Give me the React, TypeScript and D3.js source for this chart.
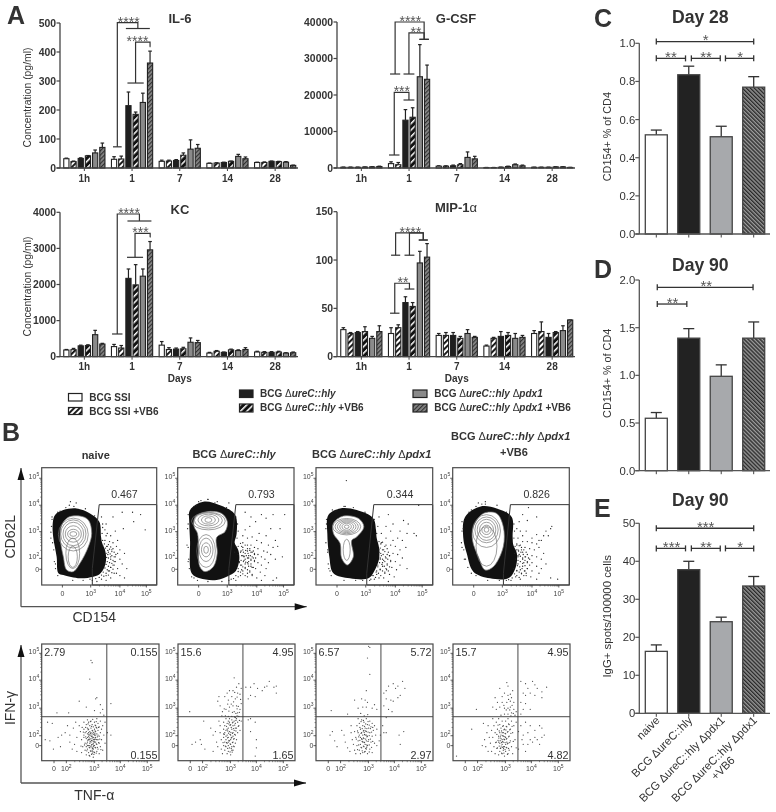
import React from 'react';
import * as d3 from 'd3';

const FONT = '"Liberation Sans", Arial, sans-serif';
const TXT = '#333';

// ---------- Panel A data ----------
const groups = ['1h', '1', '7', '14', '28'];
const il6Mean = [[32, 22, 33, 42, 52, 71], [30, 31, 215, 185, 226, 362], [23, 24, 26, 44, 65, 68], [16, 17, 19, 23, 40, 32], [19, 19, 23, 22, 20, 9]];
const il6Top = [[34, 24, 35, 43, 62, 86], [39, 41, 262, 193, 258, 403], [27, 27, 29, 52, 97, 81], [17, 18, 20, 24, 47, 38], [20, 21, 24, 23, 22, 10]];
const gcsfMean = [[200, 200, 200, 250, 300, 400], [1200, 900, 13100, 13900, 25000, 24300], [500, 500, 600, 900, 2900, 2500], [100, 100, 200, 400, 900, 600], [200, 200, 200, 300, 300, 150]];
const gcsfTop = [[250, 250, 250, 300, 350, 500], [1700, 1500, 16000, 16500, 33800, 28200], [600, 600, 800, 1200, 4400, 3200], [150, 150, 250, 500, 1100, 800], [230, 230, 230, 330, 350, 180]];
const kcMean = [[185, 195, 300, 310, 610, 350], [280, 240, 2170, 1990, 2230, 2960], [320, 200, 210, 220, 400, 390], [100, 150, 120, 190, 170, 200], [130, 120, 120, 130, 100, 110]];
const kcTop = [[200, 230, 320, 330, 730, 370], [340, 310, 2430, 2550, 2430, 3190], [420, 250, 240, 260, 520, 450], [120, 170, 130, 210, 190, 250], [150, 140, 140, 150, 110, 130]];
const mipMean = [[28, 24, 25, 26, 19, 26], [24, 30, 56, 52, 97, 103], [22, 22, 22, 19, 24, 20], [11, 19, 21, 22, 19, 20], [24, 26, 20, 25, 27, 38]];
const mipTop = [[30, 25, 26, 31, 21, 32], [30, 33, 62, 56, 109, 117], [24, 25, 25, 21, 28, 21], [12, 20, 26, 25, 24, 22], [27, 36, 24, 26, 32, 38]];
const il6Ticks = [0, 100, 200, 300, 400, 500];
const gcsfTicks = [0, 10000, 20000, 30000, 40000];
const kcTicks = [0, 1000, 2000, 3000, 4000];
const mipTicks = [0, 50, 100, 150];
const seriesFill = ['#fff', 'url(#hW)', '#1f1f1f', 'url(#hB)', '#8a8a8a', 'url(#hG)'];

// bracket: left tee bar range, left value, top value, right tee bar range, right value, stars, star bar position
type Br = [number, number, number, number, number, number, number, string, number];
const il6Br: Br[] = [[-0.15, 1.06, 73, 501, 1.64, 4.97, 481, '****', 2.04], [1.86, 4.12, 293, 434, 4.97, 5.03, 418, '****', 3.25]];
const gcsfBr: Br[] = [[-0.14, 1.27, 25750, 40000, 3.94, 5.25, 35250, '****', 2.68], [1.73, 3.24, 25750, 37000, 3.94, 5.25, 35250, '**', 3.47], [-0.28, 1.17, 3560, 20740, 1.73, 3.24, 18630, '***', 1.5]];
const kcBr: Br[] = [[-0.28, 1.17, 629, 3953, 1.86, 5.19, 3759, '****', 2.08], [1.8, 4.03, 2753, 3418, 5, 5.03, 3307, '***', 3.67]];
const mipBr: Br[] = [[0, 1.27, 105, 128, 3.85, 5.1, 120.7, '****', 2.68], [1.87, 3.24, 105, 128, 3.85, 5.1, 120.7, '', 0], [-0.14, 1.17, 45, 76, 1.87, 3.24, 70, '**', 1.65]];

// ---------- Panels C, D, E data ----------
const cMean = [0.52, 0.835, 0.51, 0.77];
const cTop = [0.545, 0.88, 0.565, 0.825];
const dMean = [0.55, 1.39, 0.99, 1.39];
const dTop = [0.61, 1.49, 1.11, 1.56];
const eMean = [16.3, 37.8, 24.1, 33.5];
const eTop = [18, 40, 25.3, 36];
const cTicks = [0, 0.2, 0.4, 0.6, 0.8, 1];
const dTicks = [0, 0.5, 1, 1.5, 2];
const eTicks = [0, 10, 20, 30, 40, 50];
const fourFill = ['#fff', '#222', '#a7a9ac', 'url(#hD)'];
type Sig = [number, number, number, string, number];
const cSig: Sig[] = [[0, 3, 1.009, '*', 1.52], [0, 0.9, 0.921, '**', 0.45], [1.08, 1.97, 0.921, '**', 1.53], [2.13, 3, 0.921, '*', 2.58]];
const dSig: Sig[] = [[0.03, 2.98, 1.923, '**', 1.54], [0.03, 0.94, 1.748, '**', 0.5]];
const eSig: Sig[] = [[0, 3, 48.7, '***', 1.52], [0, 0.9, 43.4, '***', 0.47], [1.08, 1.97, 43.4, '**', 1.53], [2.13, 3, 43.4, '*', 2.58]];

// ---------- Panel B data (channel units 0-100 of each plot) ----------
const topX = [['0', 18], ['3', 42.6], ['4', 68], ['5', 91]] as [string, number][];
const topY = [['5', 91], ['4', 68], ['3', 45.5], ['2', 22.7], ['0', 13.4]] as [string, number][];
const botX = [['0', 10.5], ['2', 21], ['3', 44.8], ['4', 67], ['5', 90]] as [string, number][];
const botY = [['5', 92], ['4', 69], ['3', 45], ['2', 21.4], ['0', 12.9]] as [string, number][];

const gate1 = [[44, 0], [44, 14], [50, 68.5], [100, 68.5], [100, 0], [44, 0]];
const gate2 = [[43.5, 0], [43.5, 10], [49.5, 68.5], [100, 68.5], [100, 0], [43.5, 0]];

const blob1 = [[11.6, 59.7], [18.8, 63.9], [30.4, 65.3], [42, 61], [50.1, 54], [51.6, 41.2], [52.5, 36], [55, 30], [56, 22], [54, 14], [50, 9], [44.9, 7.1], [33.3, 5.7], [18.8, 8.5], [14.5, 10], [13, 24], [10, 41], [9.6, 52.6]];
const blob2 = [[10.6, 64], [22, 71], [36.4, 68], [49.3, 60], [50.7, 44], [49, 36], [52, 30], [53, 22], [50, 12], [45, 8.5], [33.5, 4.3], [19, 5.7], [12, 10], [10.6, 38], [10, 52.6]];
const blob3 = [[10.6, 59.7], [20.6, 65.3], [34.9, 64], [49, 57], [51.4, 47], [52, 40], [54, 32], [54, 22], [50, 12], [44.9, 5.7], [29, 5.7], [14.9, 10], [11.4, 24], [9.7, 44]];
const blob4 = [[10.6, 58], [23.4, 66.8], [37.7, 65.3], [50.6, 58], [51.4, 41], [52, 34], [55, 27], [54, 15], [48, 6], [32, 5.7], [17.7, 11.4], [12, 27], [9, 41]];
const white1 = [[17.4, 51], [23, 57.7], [33.3, 58.8], [40.6, 55.4], [43.5, 44], [40.6, 32.7], [33.3, 18.5], [27.5, 11.4], [21.7, 12.8], [18.8, 24], [16, 41]];
const white2 = [[15, 58], [25, 62.5], [37.8, 61], [42.7, 54], [40.7, 45.5], [33.5, 40.6], [34, 27], [30.7, 15.6], [23.5, 11.4], [19, 15.6], [17.8, 32.7], [17, 44], [14, 50]];
const white3 = [[14.9, 52.6], [23.4, 58.8], [36.3, 56.8], [41, 49.7], [34.9, 41], [30.6, 38], [32, 24], [26.9, 17], [22, 22.7], [20.6, 35.5], [14.9, 44]];
const white4 = [[17.7, 49.7], [26.3, 61], [37.7, 61], [43.4, 49.7], [43.4, 32.7], [34.9, 15.6], [27.7, 12.8], [22, 24], [17, 38]];
// contour ellipses: cx, cy, rx, ry
const cont1 = [[27.5, 43.5, 3, 2], [27.5, 43.5, 5, 4], [27.5, 43.5, 7, 7], [27.5, 43.5, 9, 10], [27.5, 43.5, 11, 12], [27.5, 43, 13, 14], [27, 27, 6, 13], [27, 24, 4, 9]];
const cont2 = [[26.4, 55.4, 3, 2], [26.4, 55.4, 6, 3.5], [26.4, 55.4, 9, 5], [26.4, 55, 12, 6.5], [26.4, 54.5, 14.5, 7.5], [24.4, 30, 2, 3], [24.4, 30, 4, 6], [24.4, 30, 6, 10], [24.4, 29, 8, 14]];
const cont3 = [[26.3, 49.7, 2, 1.5], [26.3, 49.7, 4, 3], [26.3, 49.7, 6, 4], [26.3, 49.7, 8, 5], [26.3, 49.7, 10, 6], [26.3, 49.7, 12, 7], [26.3, 30, 3, 9]];
const cont4 = [[29, 47, 2, 2], [29, 47, 4, 4], [29, 47, 6, 6.5], [29, 47, 8, 9], [29, 47, 10, 11], [29, 46, 12, 14], [29, 33, 9, 17]];

const gateDots1 = [62, 58, 70, 62, 79, 62, 86, 60, 80, 54, 90, 47, 71, 48, 64, 46, 60, 42, 57, 44, 55, 47, 53, 52, 56, 52, 52, 58, 25, 71, 24, 68, 30, 70, 14, 62, 9, 56, 8, 40, 12, 18, 56, 42, 59, 37, 62, 36, 66, 38, 65, 33, 68, 30, 72, 27, 64, 24, 68, 22, 70, 18, 66, 14, 63, 10, 60, 6, 56, 4, 52, 5, 58, 12, 62, 17, 66, 27, 74, 14, 61, 30, 63, 20, 60, 24, 58, 28, 57, 33, 55, 38, 65, 10, 68, 8, 72, 6, 48, 3, 44, 4, 60, 15, 56, 8];
const gateDots2 = [58, 62, 63, 58, 67, 54, 72, 60, 76, 57, 82, 60, 92, 60, 88, 48, 80, 48, 84, 38, 76, 42, 70, 44, 62, 50, 58, 47, 56, 42, 60, 40, 64, 41, 68, 38, 72, 36, 78, 34, 82, 32, 86, 33, 90, 24, 56, 36, 60, 34, 63, 34, 66, 32, 69, 31, 74, 29, 77, 28, 80, 26, 84, 22, 56, 30, 60, 29, 63, 28, 66, 27, 69, 26, 72, 24, 75, 22, 78, 19, 57, 24, 60, 23, 63, 22, 66, 21, 69, 19, 72, 17, 76, 14, 58, 18, 61, 16, 64, 15, 67, 14, 71, 11, 75, 8, 56, 12, 60, 10, 64, 8, 68, 6, 72, 4, 82, 4, 85, 6, 54, 8, 52, 14, 53, 20, 52, 26, 55, 33, 58, 27, 61, 25, 64, 24, 67, 23, 62, 31, 65, 29, 55, 17, 58, 14, 62, 12, 57, 21, 60, 19, 63, 18, 54, 28, 56, 25, 58, 22, 61, 20, 50, 4, 46, 5, 20, 72, 26, 73, 32, 70, 16, 68, 9, 52, 8, 34, 9, 20, 14, 6, 44, 70];
const gateDots3 = [26, 89, 88, 68, 75, 55, 79, 52, 66, 52, 62, 60, 54, 58, 60, 50, 64, 46, 72, 46, 78, 44, 84, 44, 86, 42, 70, 40, 74, 38, 66, 38, 60, 40, 56, 44, 56, 36, 60, 34, 64, 34, 68, 33, 72, 30, 77, 32, 58, 30, 62, 28, 66, 27, 70, 26, 74, 23, 56, 25, 60, 23, 64, 21, 68, 20, 72, 17, 78, 14, 57, 19, 61, 17, 65, 15, 69, 13, 55, 13, 59, 11, 63, 9, 67, 7, 52, 9, 50, 5, 46, 4, 54, 6, 58, 6, 62, 3, 54, 30, 55, 22, 53, 17, 52, 12, 48, 8, 60, 14, 62, 12, 57, 16, 58, 21, 63, 25, 25, 67, 14, 64, 9, 52, 10, 30, 11, 14];
const gateDots4 = [65, 66, 60, 60, 57, 54, 64, 55, 72, 58, 85, 50, 84, 48, 80, 46, 78, 42, 72, 43, 74, 38, 68, 40, 63, 46, 58, 46, 55, 48, 60, 42, 56, 40, 60, 37, 64, 37, 68, 36, 72, 35, 76, 38, 82, 42, 58, 34, 62, 32, 66, 31, 70, 30, 74, 32, 78, 27, 56, 30, 60, 28, 64, 26, 68, 25, 72, 24, 76, 22, 80, 18, 56, 24, 60, 22, 64, 20, 68, 19, 72, 16, 76, 14, 56, 18, 60, 16, 64, 14, 68, 12, 74, 10, 84, 6, 90, 5, 55, 12, 59, 10, 63, 8, 67, 7, 72, 5, 54, 7, 58, 5, 50, 4, 46, 4, 54, 22, 53, 27, 55, 34, 62, 24, 66, 22, 59, 30, 57, 26, 61, 19, 58, 13, 52, 14, 62, 12, 28, 71, 25, 69, 22, 70, 16, 64, 9, 48, 8, 32, 10, 22];

// dense speckle hugging each black cloud's edge
const fringe1 = [53, 33.5, 54.5, 35, 56.5, 33, 58, 34.5, 60, 32.5, 62, 31, 54, 30, 55.5, 31.5, 57.5, 29.5, 59, 30.5, 61, 28.5, 63, 28, 64.5, 26, 56, 27, 57.5, 26, 59.5, 26.5, 61, 25, 63, 24, 56.5, 23.5, 58, 23, 60, 22, 62, 21, 64, 20, 57, 20, 59, 19, 61, 18.5, 63, 17, 56, 17.5, 58, 16, 60, 15, 62, 13.5, 55, 14.5, 57, 13, 59, 12, 61, 10.5, 53.5, 11, 56, 10, 58, 8.5, 52, 8.5, 54, 7.5, 50, 6.5, 47, 5.5, 53, 38, 52.5, 44, 53, 49, 9, 58, 8.5, 50, 8, 45, 9.5, 36, 10.5, 30, 11, 20, 12, 14, 14, 8, 16, 63, 21, 66, 28, 67, 38, 65, 46, 59, 27, 4, 36, 4, 42, 5];
const fringe2 = [52, 33, 54, 35.5, 56, 32, 58, 34, 60, 31, 62, 29.5, 64, 28, 66, 26, 54.5, 29, 56.5, 28, 58.5, 29.5, 60.5, 27, 62.5, 25, 65, 23, 55, 25, 57, 24.5, 59, 25, 61, 23, 63, 21, 66, 20, 54.5, 21, 56.5, 20, 58.5, 19.5, 60.5, 18, 63, 16, 65, 15, 54, 17, 56, 15.5, 58, 15, 60, 13, 62, 11, 64, 9, 52, 11.5, 54, 11, 56, 9.5, 58, 8, 60, 7, 50, 8, 52, 7, 48, 5.5, 51, 40, 52, 46, 51.5, 52, 50, 58, 9, 60, 8.5, 48, 9, 32, 9.5, 22, 10, 14, 12, 7, 17, 4, 14, 67, 18, 71, 26, 73, 34, 71, 42, 66, 26, 3, 38, 3, 44, 4, 53, 19, 55, 13, 50, 33, 49, 28];
const fringe3 = [54, 37, 55.5, 35, 57, 36.5, 59, 33, 61, 31, 55, 31.5, 57, 30, 59, 28.5, 61, 26, 63, 25, 55.5, 27, 57.5, 26, 59.5, 24, 61.5, 22, 64, 20, 55, 23, 57, 22, 59, 20, 61, 18, 63, 15.5, 54.5, 19, 56.5, 17.5, 58.5, 16, 60.5, 13, 53, 15.5, 55, 13.5, 57, 12, 59, 10, 51.5, 11, 53.5, 10, 55.5, 8, 49, 8, 51, 6.5, 47, 5, 52, 44, 53, 50, 50, 56, 9, 56, 8.5, 48, 8.5, 36, 10, 28, 10.5, 18, 12, 12, 13, 8, 17, 63, 24, 67, 32, 66, 42, 62, 24, 4, 34, 4, 40, 4, 54, 28];
const fringe4 = [53.5, 33, 55, 35, 57, 33.5, 59, 32, 61, 30, 63, 28, 54.5, 30, 56.5, 29, 58.5, 28, 60.5, 26, 62.5, 24, 65, 23, 56, 25, 58, 24.5, 60, 23, 62, 21, 64, 19, 66, 17, 56, 21, 58, 20, 60, 18.5, 62, 16.5, 64, 14, 55.5, 16.5, 57.5, 15.5, 59.5, 14, 61.5, 12, 63, 10, 55, 12.5, 57, 11, 59, 9.5, 61, 8, 53, 9.5, 55, 8, 57, 6.5, 51, 6, 48, 4.5, 52.5, 40, 53, 46, 52.5, 52, 8, 54, 8, 46, 7.5, 36, 9.5, 30, 11, 22, 13, 15, 16, 10, 20, 8, 14, 62, 20, 67, 28, 69, 38, 68, 46, 62, 30, 4, 40, 4];

const ics1 = [43, 84, 42, 86, 41, 70, 32, 51, 46, 53, 47, 54, 50, 48, 52, 44, 38, 46, 59, 49, 13, 41, 23, 41, 45, 43, 50, 41, 53, 39, 59, 22, 5, 33, 9, 32, 3, 18, 7, 17, 10, 10, 14, 20, 17, 22, 20, 24, 16, 12, 22, 30, 24, 16, 26, 10, 24, 22, 27, 28, 29, 33, 28, 14, 30, 20, 30, 8, 32, 30, 33, 25, 34, 18, 35, 12, 34, 7, 36, 33, 36, 27, 36, 22, 37, 15, 37, 9, 38, 31, 38, 25, 38, 19, 38, 12, 38, 5, 39, 35, 39, 28, 39, 23, 39, 16, 39, 10, 40, 33, 40, 27, 40, 21, 40, 18, 40, 13, 40, 7, 41, 30, 41, 25, 41, 22, 41, 15, 41, 11, 41, 4, 42, 34, 42, 28, 42, 24, 42, 19, 42, 16, 42, 12, 42, 8, 43, 31, 43, 26, 43, 21, 43, 17, 43, 14, 43, 9, 43, 6, 44, 29, 44, 24, 44, 20, 44, 15, 44, 10, 44, 3, 45, 33, 45, 27, 45, 22, 45, 18, 45, 13, 45, 7, 46, 30, 46, 25, 46, 20, 46, 16, 46, 11, 47, 36, 47, 28, 47, 23, 47, 14, 47, 8, 48, 32, 48, 26, 48, 18, 48, 10, 49, 29, 49, 21, 49, 15, 49, 6, 50, 34, 50, 24, 50, 12, 51, 27, 51, 18, 52, 30, 52, 9, 53, 22, 54, 33, 54, 15, 56, 24, 36, 20, 37, 24, 39, 20, 41, 18, 43, 23, 45, 16, 46, 22, 44, 12, 40, 24, 42, 22, 44, 18, 43, 11, 41, 13, 39, 13, 47, 18, 48, 22];
const core1 = [37.5, 20.5, 38.5, 14.5, 39.5, 26.5, 40.5, 11.5, 40.5, 19.5, 41.5, 23.5, 41.5, 8.5, 42.5, 17.5, 42.5, 13.5, 42.5, 29.5, 43.5, 25.5, 43.5, 19.5, 43.5, 10.5, 44.5, 22.5, 44.5, 16.5, 44.5, 7.5, 45.5, 25.5, 45.5, 19.5, 45.5, 11.5, 46.5, 28.5, 46.5, 14.5, 46.5, 6.5, 47.5, 20.5, 47.5, 11.5, 37.5, 28.5, 39.5, 31.5, 41.5, 33.5, 43.5, 35.5, 45.5, 30.5, 38.5, 8.5, 40.5, 4.5, 42.5, 5.5, 44.5, 5.5, 46.5, 33.5, 48.5, 28.5, 48.5, 15.5, 36.5, 13.5, 35.5, 24.5, 34.5, 28.5, 33.5, 12.5, 49.5, 18.5, 50.5, 9.5, 40.2, 22.6, 42.3, 20.7, 44.2, 13.4, 41.3, 16.6, 43.3, 7.6, 45.3, 23.6, 46.2, 18.3, 39.3, 17.6];
const ics2 = [48, 71, 50, 63, 51, 58, 47, 60, 52, 66, 54, 62, 44, 60, 42, 58, 35, 55, 34, 51, 36, 47, 40, 55, 43, 52, 46, 55, 49, 53, 53, 57, 50, 47, 47, 47, 44, 46, 41, 44, 38, 42, 48, 42, 51, 41, 53, 44, 54, 49, 52, 38, 49, 37, 46, 38, 43, 38, 58, 63, 62, 63, 65, 66, 68, 62, 72, 60, 74, 63, 76, 64, 78, 68, 82, 63, 84, 64, 84, 58, 62, 56, 60, 53, 66, 55, 10, 42, 22, 34, 12, 14, 15, 16, 19, 18, 20, 14, 23, 10, 28, 28, 30, 22, 32, 25, 33, 16, 34, 12, 30, 8, 35, 34, 36, 30, 36, 24, 37, 18, 37, 10, 38, 6, 39, 33, 39, 27, 39, 20, 39, 13, 40, 30, 40, 24, 40, 16, 40, 9, 41, 36, 41, 26, 41, 18, 41, 12, 42, 32, 42, 22, 42, 15, 42, 6, 43, 34, 43, 28, 43, 20, 43, 13, 43, 8, 44, 36, 44, 25, 44, 17, 44, 11, 45, 31, 45, 22, 45, 14, 45, 5, 46, 35, 46, 27, 46, 20, 46, 12, 47, 30, 47, 24, 47, 16, 47, 9, 48, 34, 48, 26, 48, 19, 48, 12, 49, 32, 49, 22, 49, 15, 50, 36, 50, 28, 50, 18, 51, 33, 51, 24, 52, 30, 53, 26, 54, 34, 62, 36, 66, 33, 62, 25, 66, 4, 67, 11, 67, 18, 60, 35, 44, 33, 42, 27, 47, 21, 45, 18, 43, 16, 41, 21, 39, 23, 46, 9, 49, 28, 47, 33];
const core2 = [38.5, 15.5, 39.5, 22.5, 40.5, 12.5, 41.5, 29.5, 41.5, 15.5, 42.5, 25.5, 42.5, 10.5, 43.5, 31.5, 43.5, 17.5, 44.5, 22.5, 44.5, 14.5, 44.5, 7.5, 45.5, 28.5, 45.5, 19.5, 45.5, 10.5, 46.5, 32.5, 46.5, 23.5, 46.5, 15.5, 47.5, 27.5, 47.5, 18.5, 47.5, 12.5, 48.5, 37.5, 48.5, 30.5, 48.5, 22.5, 49.5, 40.5, 49.5, 34.5, 49.5, 25.5, 50.5, 44.5, 50.5, 38.5, 51.5, 29.5, 51.5, 46.5, 52.5, 41.5, 52.5, 34.5, 46.5, 41.5, 47.5, 50.5, 45.5, 48.5, 43.5, 42.5, 42.5, 48.5, 48.5, 58.5, 50.5, 54.5, 53.5, 52.5, 40.5, 38.5, 39.5, 44.5, 37.5, 38.5, 44.5, 30.2, 42.3, 19.6, 45.2, 24.3, 46.3, 7.4, 43.2, 23.6];
const ics3 = [45, 98, 46, 97, 44, 88, 46, 74, 43, 60, 33, 52, 39, 53, 42, 52, 44, 50, 48, 45, 50, 48, 52, 44, 40, 46, 36, 45, 43, 46, 13, 43, 27, 40, 58, 58, 60, 60, 62, 64, 66, 66, 68, 62, 70, 64, 74, 68, 76, 62, 72, 56, 70, 54, 60, 53, 64, 52, 66, 51, 58, 47, 62, 44, 65, 42, 60, 37, 75, 25, 60, 24, 58, 24, 71, 22, 72, 14, 57, 30, 12, 22, 14, 25, 16, 17, 18, 12, 22, 26, 24, 22, 25, 16, 27, 11, 29, 8, 30, 24, 30, 30, 31, 18, 32, 14, 33, 9, 33, 25, 34, 6, 34, 20, 35, 30, 35, 13, 36, 36, 36, 24, 36, 17, 37, 9, 37, 32, 38, 27, 38, 20, 38, 14, 38, 6, 39, 35, 39, 24, 39, 11, 40, 30, 40, 22, 40, 16, 40, 7, 41, 33, 41, 26, 41, 19, 41, 12, 42, 28, 42, 22, 42, 14, 42, 8, 43, 36, 43, 25, 43, 17, 43, 10, 44, 31, 44, 21, 44, 13, 44, 6, 45, 28, 45, 18, 46, 34, 46, 24, 46, 10, 47, 29, 47, 16, 48, 32, 48, 21, 48, 7, 49, 26, 50, 30, 50, 15, 51, 22, 52, 27, 52, 13, 54, 17, 55, 22, 39, 19, 41, 16, 43, 22, 37, 22];
const core3 = [34.5, 18.5, 35.5, 25.5, 35.5, 9.5, 36.5, 20.5, 36.5, 13.5, 37.5, 28.5, 37.5, 17.5, 38.5, 33.5, 38.5, 23.5, 38.5, 11.5, 39.5, 27.5, 39.5, 16.5, 39.5, 8.5, 40.5, 34.5, 40.5, 25.5, 40.5, 19.5, 40.5, 12.5, 41.5, 29.5, 41.5, 22.5, 41.5, 15.5, 41.5, 7.5, 42.5, 31.5, 42.5, 25.5, 42.5, 18.5, 42.5, 10.5, 43.5, 27.5, 43.5, 20.5, 43.5, 13.5, 44.5, 33.5, 44.5, 24.5, 44.5, 16.5, 45.5, 30.5, 45.5, 21.5, 45.5, 13.5, 45.5, 7.5, 46.5, 27.5, 46.5, 18.5, 47.5, 24.5, 47.5, 11.5, 48.5, 28.5, 48.5, 16.5, 38.2, 40.5, 41.2, 38.5, 44.2, 39.5, 39.3, 18.2, 41.2, 24.3, 43.3, 11.6];
const ics4 = [46, 67, 47, 64, 40, 62, 44, 58, 47, 56, 49, 57, 50, 54, 51, 60, 42, 55, 36, 54, 38, 50, 42, 50, 46, 50, 49, 51, 52, 50, 34, 46, 20, 44, 37, 44, 40, 46, 44, 45, 47, 45, 49, 46, 52, 44, 50, 41, 47, 40, 44, 40, 41, 39, 53, 39, 54, 42, 58, 68, 62, 66, 68, 68, 64, 62, 70, 65, 72, 62, 76, 59, 80, 63, 60, 58, 62, 56, 66, 58, 70, 56, 76, 54, 58, 50, 62, 49, 66, 44, 60, 44, 58, 40, 16, 27, 3, 4, 26, 32, 25, 13, 27, 18, 28, 12, 29, 24, 30, 8, 30, 30, 31, 20, 32, 15, 33, 26, 33, 8, 34, 36, 34, 20, 35, 12, 35, 30, 36, 24, 36, 6, 37, 33, 37, 16, 38, 27, 38, 11, 39, 36, 39, 21, 39, 5, 40, 31, 40, 24, 40, 15, 40, 8, 41, 28, 41, 19, 41, 11, 42, 34, 42, 24, 42, 14, 42, 6, 43, 30, 43, 21, 43, 16, 43, 9, 44, 27, 44, 18, 44, 12, 44, 4, 45, 34, 45, 23, 45, 14, 45, 8, 46, 29, 46, 19, 46, 11, 47, 36, 47, 25, 47, 15, 47, 6, 48, 31, 48, 21, 48, 9, 49, 27, 49, 17, 50, 34, 50, 12, 51, 24, 51, 6, 52, 30, 53, 18, 54, 33, 54, 11, 56, 25, 58, 30, 60, 22, 60, 14, 62, 33, 64, 24, 64, 14, 66, 30, 66, 18, 68, 16, 70, 26, 70, 20, 72, 18, 74, 30, 76, 28, 76, 20, 74, 14, 78, 22, 62, 8, 59, 18, 56, 10, 43, 24, 41, 22, 45, 20, 39, 16, 43, 12, 46, 16, 42, 18];
const core4 = [36.5, 15.5, 37.5, 22.5, 37.5, 10.5, 38.5, 17.5, 38.5, 30.5, 39.5, 25.5, 39.5, 12.5, 40.5, 20.5, 40.5, 10.5, 41.5, 25.5, 41.5, 15.5, 41.5, 6.5, 42.5, 21.5, 42.5, 11.5, 42.5, 29.5, 43.5, 26.5, 43.5, 18.5, 43.5, 6.5, 44.5, 23.5, 44.5, 15.5, 44.5, 9.5, 45.5, 29.5, 45.5, 18.5, 45.5, 11.5, 46.5, 24.5, 46.5, 14.5, 46.5, 5.5, 47.5, 31.5, 47.5, 20.5, 47.5, 10.5, 48.5, 26.5, 48.5, 15.5, 49.5, 38.5, 49.5, 23.5, 48.5, 43.5, 50.5, 47.5, 51.5, 40.5, 47.5, 52.5, 45.5, 43.5, 43.5, 47.5, 50.5, 29.5, 51.5, 16.5, 40.3, 17.2, 42.2, 16.3, 44.3, 20.6, 43.2, 10.6, 45.2, 26.4, 41.2, 12.6, 39.2, 19.4];

const chunk = (a: number[]) => d3.range(0, a.length, 2).map((i) => [a[i], a[i + 1]]);

const outline = d3.line().curve(d3.curveCatmullRomClosed);

function Sub({ t }: { t: string }) {
  return t === '0' ? <tspan>0</tspan> : (<><tspan>10</tspan><tspan dy={-3} fontSize={5}>{t}</tspan></>);
}

function FlowFrame({ x0, x1, y0, y1, xt, yt, children }: any) {
  const sx = d3.scaleLinear([0, 100], [x0, x1]);
  const sy = d3.scaleLinear([0, 100], [y1, y0]);
  const minorX: number[] = [];
  const minorY: number[] = [];
  const dec = (t: [string, number][], out: number[]) => {
    const sorted = t.filter((d) => d[0] !== '0').map((d) => d[1]).sort((a, b) => a - b);
    d3.pairs(sorted).forEach(([a, b]) => d3.range(2, 10).forEach((k) => out.push(a + Math.log10(k) * (b - a))));
  };
  dec(xt, minorX);
  dec(yt, minorY);
  return (
    <g>
      {children(sx, sy)}
      <rect x={x0} y={y0} width={x1 - x0} height={y1 - y0} fill="none" stroke="#4a4a4a" strokeWidth={1.2} />
      {minorX.map((m, i) => <line key={i} x1={sx(m)} x2={sx(m)} y1={y1} y2={y1 + 1.5} stroke="#444" strokeWidth={0.6} />)}
      {minorY.map((m, i) => <line key={i} y1={sy(m)} y2={sy(m)} x1={x0} x2={x0 - 1.5} stroke="#444" strokeWidth={0.6} />)}
      {xt.map(([t, v]: any) => (
        <g key={t}>
          <line x1={sx(v)} x2={sx(v)} y1={y1} y2={y1 + 2.5} stroke="#333" strokeWidth={0.8} />
          <text x={sx(v)} y={y1 + 10.5} fontSize={7} textAnchor="middle" fill="#444"><Sub t={t} /></text>
        </g>
      ))}
      {yt.map(([t, v]: any) => (
        <g key={t}>
          <line x1={x0} x2={x0 - 2.5} y1={sy(v)} y2={sy(v)} stroke="#333" strokeWidth={0.8} />
          <text x={x0 - 2.5} y={sy(v) + (t === '0' ? 2.5 : 1)} fontSize={7} textAnchor="end" fill="#444"><Sub t={t} /></text>
        </g>
      ))}
    </g>
  );
}

function TopPlot({ x0, x1, blob, white, cont, dots, gate, label }: any) {
  return (
    <FlowFrame x0={x0} x1={x1} y0={467.7} y1={585} xt={topX} yt={topY}>
      {(sx: any, sy: any) => (
        <g>
          <path d={outline(blob.map((p: number[]) => [sx(p[0]), sy(p[1])]))!} fill="#111" />
          {chunk(dots).map((p, i) => <circle key={i} cx={sx(p[0])} cy={sy(p[1])} r={0.65} fill="#222" />)}
          <path d={outline(white.map((p: number[]) => [sx(p[0]), sy(p[1])]))!} fill="#fff" stroke="#777" strokeWidth={0.7} />
          {cont.map((c: number[], i: number) => (
            <ellipse key={i} cx={sx(c[0])} cy={sy(c[1])} rx={sx(c[2]) - sx(0)} ry={sy(0) - sy(c[3])} fill="none" stroke="#777" strokeWidth={0.7} />
          ))}
          <path d={d3.line()(gate.map((p: number[]) => [sx(p[0]), sy(p[1])]))!} fill="none" stroke="#333" strokeWidth={1} />
          <text x={sx(72)} y={sy(74.5)} fontSize={10.6} textAnchor="middle" fill={TXT}>{label}</text>
        </g>
      )}
    </FlowFrame>
  );
}

function BotPlot({ x0, x1, dots, ul, ur, lr }: any) {
  return (
    <FlowFrame x0={x0} x1={x1} y0={644} y1={760.7} xt={botX} yt={botY}>
      {(sx: any, sy: any) => (
        <g>
          {chunk(dots).map((p, i) => <circle key={i} cx={sx(p[0])} cy={sy(p[1])} r={0.62} fill="#222" opacity={0.85} />)}
          <line x1={sx(55.5)} x2={sx(55.5)} y1={644} y2={760.7} stroke="#333" strokeWidth={0.9} />
          <line x1={x0} x2={x1} y1={sy(37.7)} y2={sy(37.7)} stroke="#333" strokeWidth={0.9} />
          <text x={x0 + 2.5} y={656} fontSize={10.8} fill={TXT}>{ul}</text>
          <text x={x1 - 1.5} y={656} fontSize={10.8} fill={TXT} textAnchor="end">{ur}</text>
          <text x={x1 - 1.5} y={759} fontSize={10.8} fill={TXT} textAnchor="end">{lr}</text>
        </g>
      )}
    </FlowFrame>
  );
}

function SmallPanel({ x0, yTop, yBot, max, ticks, means, tops, brs, title, titleX, titleY, ylabel, days }: any) {
  const y = d3.scaleLinear([0, max], [yBot, yTop]);
  const band = d3.scaleBand<string>().domain(groups).range([x0 + 0.5, x0 + 239]);
  const gc = (g: string) => band(g)! + band.bandwidth() / 2;
  const inner = d3.scaleLinear([0, 5], [-18, 18]);
  const bx = (i: number) => gc('1') + inner(i);
  return (
    <g>
      {groups.map((g, gi) => (
        <g key={g}>
          {means[gi].map((m: number, i: number) => (
            <g key={i}>
              <line x1={gc(g) + inner(i)} x2={gc(g) + inner(i)} y1={y(m)} y2={y(tops[gi][i])} stroke="#222" strokeWidth={1.2} />
              <line x1={gc(g) + inner(i) - 1.8} x2={gc(g) + inner(i) + 1.8} y1={y(tops[gi][i])} y2={y(tops[gi][i])} stroke="#222" strokeWidth={1.2} />
              <rect x={gc(g) + inner(i) - 2.6} y={y(m)} width={5.2} height={yBot - y(m)} fill={seriesFill[i]} stroke="#222" strokeWidth={1.1} />
            </g>
          ))}
          <line x1={gc(g)} x2={gc(g)} y1={yBot} y2={yBot + 3} stroke="#444" strokeWidth={1} />
          <text x={gc(g)} y={yBot + 13.5} fontSize={10} fontWeight="bold" textAnchor="middle" fill={TXT}>{g}</text>
        </g>
      ))}
      <line x1={x0} x2={x0} y1={yTop} y2={yBot} stroke="#444" strokeWidth={1.3} />
      <line x1={x0 - 3.5} x2={x0 + 238} y1={yBot} y2={yBot} stroke="#444" strokeWidth={1.3} />
      {ticks.map((t: number) => (
        <g key={t}>
          <line x1={x0 - 3.5} x2={x0} y1={y(t)} y2={y(t)} stroke="#444" strokeWidth={1.2} />
          <text x={x0 - 4} y={y(t) + 3.6} fontSize={10.4} fontWeight="bold" textAnchor="end" fill={TXT}>{t}</text>
        </g>
      ))}
      {brs.map((b: Br, i: number) => {
        const [a0, a1, ly, ty, c0, c1, ry, s, sp] = b;
        const lm = bx((a0 + a1) / 2);
        const rm = bx((c0 + c1) / 2);
        return (
          <g key={i} fill="none" stroke="#333" strokeWidth={1.2}>
            <line x1={bx(a0)} x2={bx(a1)} y1={y(ly)} y2={y(ly)} />
            <line x1={bx(c0)} x2={bx(c1)} y1={y(ry)} y2={y(ry)} />
            <path d={d3.line()([[lm, y(ly)], [lm, y(ty)], [rm, y(ty)], [rm, y(ry)]])!} />
            {s && <text x={bx(sp)} y={y(ty) + 4} fontSize={14} textAnchor="middle" fill="#555" stroke="none">{s}</text>}
          </g>
        );
      })}
      <text x={titleX} y={titleY} fontSize={13} fontWeight="bold" textAnchor="middle" fill={TXT}>{title}</text>
      {ylabel && (
        <text transform={`translate(31,${(yTop + yBot) / 2 + 2}) rotate(-90)`} fontSize={10.4} textAnchor="middle" fill={TXT}>Concentration (pg/ml)</text>
      )}
      {days && <text x={gc('7')} y={382.3} fontSize={10} fontWeight="bold" textAnchor="middle" fill={TXT}>Days</text>}
    </g>
  );
}

function FourPanel({ yTop, yBot, max, ticks, means, tops, sig, title, titleY, ylabel, ylabelSize, fmt }: any) {
  const y = d3.scaleLinear([0, max], [yBot, yTop]);
  const x = d3.scaleLinear([0, 3], [656.3, 753.7]);
  const x0 = 639.3;
  return (
    <g>
      {means.map((m: number, i: number) => (
        <g key={i}>
          <line x1={x(i)} x2={x(i)} y1={y(m)} y2={y(tops[i])} stroke="#333" strokeWidth={1.3} />
          <line x1={x(i) - 5.5} x2={x(i) + 5.5} y1={y(tops[i])} y2={y(tops[i])} stroke="#333" strokeWidth={1.3} />
          <rect x={x(i) - 11} y={y(m)} width={22} height={yBot - y(m)} fill={fourFill[i]} stroke="#444" strokeWidth={1.3} />
          <line x1={x(i)} x2={x(i)} y1={yBot} y2={yBot + 3.5} stroke="#444" strokeWidth={1} />
        </g>
      ))}
      <line x1={x0} x2={x0} y1={yTop} y2={yBot} stroke="#555" strokeWidth={1.3} />
      <line x1={x0 - 4} x2={770} y1={yBot} y2={yBot} stroke="#555" strokeWidth={1.3} />
      {ticks.map((t: number) => (
        <g key={t}>
          <line x1={x0 - 4} x2={x0} y1={y(t)} y2={y(t)} stroke="#555" strokeWidth={1.2} />
          <text x={x0 - 4} y={y(t) + 4} fontSize={11.3} textAnchor="end" fill={TXT}>{fmt(t)}</text>
        </g>
      ))}
      {sig.map(([a, b, v, s, sp]: Sig, i: number) => (
        <g key={i} stroke="#333" strokeWidth={1.3}>
          <line x1={x(a)} x2={x(b)} y1={y(v)} y2={y(v)} />
          <line x1={x(a)} x2={x(a)} y1={y(v) - 3} y2={y(v) + 3} />
          <line x1={x(b)} x2={x(b)} y1={y(v) - 3} y2={y(v) + 3} />
          <text x={x(sp)} y={y(v) + 3.5} fontSize={15} textAnchor="middle" fill="#555" stroke="none">{s}</text>
        </g>
      ))}
      <text x={700.3} y={titleY} fontSize={17.6} fontWeight="bold" textAnchor="middle" fill={TXT}>{title}</text>
      <text transform={`translate(611.3,${(yTop + yBot) / 2 - 2}) rotate(-90)`} fontSize={ylabelSize} textAnchor="middle" fill={TXT}>{ylabel}</text>
    </g>
  );
}

const Ital = ({ children }: any) => <tspan fontStyle="italic">{children}</tspan>;
const Delta = () => <tspan fontWeight="normal">Δ</tspan>;

function LegendItem({ x, y, w, h, fill, tx, ty, children }: any) {
  return (
    <g>
      <rect x={x} y={y} width={w} height={h} fill={fill} stroke="#222" strokeWidth={1.2} />
      <text x={tx} y={ty} fontSize={10} fontWeight="bold" fill={TXT}>{children}</text>
    </g>
  );
}

function Arrow({ x1, y1, x2, y2 }: any) {
  const horiz = y1 === y2;
  const head = horiz
    ? [[x2, y2], [x2 - 12, y2 - 3.5], [x2 - 12, y2 + 3.5]]
    : [[x2, y2], [x2 - 3.5, y2 + 12], [x2 + 3.5, y2 + 12]];
  return (
    <g>
      <line x1={x1} y1={y1} x2={x2} y2={y2} stroke="#555" strokeWidth={1.3} />
      <path d={d3.line()(head as [number, number][])! + 'Z'} fill="#111" />
    </g>
  );
}

export default function App() {
  const f1 = (t: number) => t.toFixed(1);
  const f0 = (t: number) => String(t);
  const xe = d3.scaleLinear([0, 3], [656.3, 753.7]);
  const eLabels = ['naive', 'BCG ΔureC::hly', 'BCG ΔureC::hly Δpdx1', 'BCG ΔureC::hly Δpdx1'];
  return (
    <svg width={776} height={812} viewBox="0 0 776 812" fontFamily={FONT}
      style={{ position: 'absolute', left: 0, top: 0, background: '#fff', filter: 'blur(0.35px)' }}>
      <defs>
        <pattern id="hW" patternUnits="userSpaceOnUse" width={4} height={4} patternTransform="rotate(45)">
          <rect width={4} height={4} fill="#fff" /><rect width={1.9} height={4} fill="#111" />
        </pattern>
        <pattern id="hB" patternUnits="userSpaceOnUse" width={4.6} height={4} patternTransform="rotate(45)">
          <rect width={4.6} height={4} fill="#111" /><rect width={1.5} height={4} fill="#fff" />
        </pattern>
        <pattern id="hG" patternUnits="userSpaceOnUse" width={3} height={3} patternTransform="rotate(45)">
          <rect width={3} height={3} fill="#888" /><rect width={1.2} height={3} fill="#333" />
        </pattern>
        <pattern id="hD" patternUnits="userSpaceOnUse" width={2.8} height={3} patternTransform="rotate(-45)">
          <rect width={2.8} height={3} fill="#9a9a9a" /><rect width={1.4} height={3} fill="#2a2a2a" />
        </pattern>
      </defs>

      <text x={7} y={24} fontSize={25} fontWeight="bold" fill={TXT}>A</text>
      <text x={2} y={441} fontSize={25} fontWeight="bold" fill={TXT}>B</text>
      <text x={594} y={27} fontSize={25} fontWeight="bold" fill={TXT}>C</text>
      <text x={594} y={278} fontSize={25} fontWeight="bold" fill={TXT}>D</text>
      <text x={594} y={517} fontSize={25} fontWeight="bold" fill={TXT}>E</text>

      <SmallPanel x0={60} yTop={23} yBot={168} max={500} ticks={il6Ticks} means={il6Mean} tops={il6Top} brs={il6Br} title="IL-6" titleX={180} titleY={23} ylabel />
      <SmallPanel x0={337} yTop={22} yBot={168} max={40000} ticks={gcsfTicks} means={gcsfMean} tops={gcsfTop} brs={gcsfBr} title="G-CSF" titleX={456} titleY={23} />
      <SmallPanel x0={60} yTop={212.3} yBot={356.7} max={4000} ticks={kcTicks} means={kcMean} tops={kcTop} brs={kcBr} title="KC" titleX={180} titleY={214} ylabel days />
      <SmallPanel x0={337} yTop={211.7} yBot={356.7} max={150} ticks={mipTicks} means={mipMean} tops={mipTop} brs={mipBr} title={<><tspan>MIP-1</tspan><tspan fontWeight="normal">α</tspan></>} titleX={456} titleY={212} days />

      <LegendItem x={68.5} y={393.5} w={13.5} h={7.5} fill={seriesFill[0]} tx={89.3} ty={400.5}>BCG SSI</LegendItem>
      <LegendItem x={68.5} y={407.5} w={13.5} h={7} fill={seriesFill[1]} tx={89.3} ty={414.5}>BCG SSI +VB6</LegendItem>
      <LegendItem x={239.5} y={390} w={13.5} h={7.5} fill={seriesFill[2]} tx={260} ty={397}>BCG <Delta /><Ital>ureC::hly</Ital></LegendItem>
      <LegendItem x={239.5} y={404} w={13.5} h={8} fill={seriesFill[3]} tx={260} ty={411}>BCG <Delta /><Ital>ureC::hly</Ital> +VB6</LegendItem>
      <LegendItem x={413} y={390} w={14} h={7.5} fill={seriesFill[4]} tx={434.3} ty={397}>BCG <Delta /><Ital>ureC::hly</Ital> <Delta /><Ital>pdx1</Ital></LegendItem>
      <LegendItem x={413} y={404} w={14} h={8} fill={seriesFill[5]} tx={434.3} ty={411}>BCG <Delta /><Ital>ureC::hly</Ital> <Delta /><Ital>pdx1</Ital> +VB6</LegendItem>

      <FourPanel yTop={43.3} yBot={234} max={1} ticks={cTicks} means={cMean} tops={cTop} sig={cSig} title="Day 28" titleY={22.7} ylabel="CD154+ % of CD4" ylabelSize={10.8} fmt={f1} />
      <FourPanel yTop={280} yBot={470.7} max={2} ticks={dTicks} means={dMean} tops={dTop} sig={dSig} title="Day 90" titleY={271} ylabel="CD154+ % of CD4" ylabelSize={10.8} fmt={f1} />
      <FourPanel yTop={523.3} yBot={713.3} max={50} ticks={eTicks} means={eMean} tops={eTop} sig={eSig} title="Day 90" titleY={506} ylabel="IgG+ spots/100000 cells" ylabelSize={11.4} fmt={f0} />
      {eLabels.map((l, i) => (
        <g key={i} transform={`translate(${xe(i) + 2},${719}) rotate(-45)`}>
          <text fontSize={11.3} textAnchor="end" y={3} fill={TXT}>{l}</text>
          {i === 3 && <text fontSize={11.3} textAnchor="middle" x={-58} y={15.5} fill={TXT}>+VB6</text>}
        </g>
      ))}

      {/* Panel B */}
      <text x={95.7} y={459} fontSize={11} fontWeight="bold" textAnchor="middle" fill={TXT}>naive</text>
      <text x={234} y={458} fontSize={11} fontWeight="bold" textAnchor="middle" fill={TXT}>BCG <Delta /><Ital>ureC::hly</Ital></text>
      <text x={371.7} y={458} fontSize={11} fontWeight="bold" textAnchor="middle" fill={TXT}>BCG <Delta /><Ital>ureC::hly</Ital> <Delta /><Ital>pdx1</Ital></text>
      <text x={510.7} y={440} fontSize={11} fontWeight="bold" textAnchor="middle" fill={TXT}>BCG <Delta /><Ital>ureC::hly</Ital> <Delta /><Ital>pdx1</Ital></text>
      <text x={514} y={456} fontSize={11} fontWeight="bold" textAnchor="middle" fill={TXT}>+VB6</text>

      <TopPlot x0={41.7} x1={156.7} blob={blob1} white={white1} cont={cont1} dots={[...gateDots1, ...fringe1]} gate={gate1} label="0.467" />
      <TopPlot x0={177.7} x1={294} blob={blob2} white={white2} cont={cont2} dots={[...gateDots2, ...fringe2]} gate={gate1} label="0.793" />
      <TopPlot x0={316} x1={432.7} blob={blob3} white={white3} cont={cont3} dots={[...gateDots3, ...fringe3]} gate={gate2} label="0.344" />
      <TopPlot x0={452.7} x1={569.3} blob={blob4} white={white4} cont={cont4} dots={[...gateDots4, ...fringe4]} gate={gate2} label="0.826" />

      <BotPlot x0={41.7} x1={159} dots={[...ics1, ...core1]} ul="2.79" ur="0.155" lr="0.155" />
      <BotPlot x0={178} x1={295} dots={[...ics2, ...core2]} ul="15.6" ur="4.95" lr="1.65" />
      <BotPlot x0={316} x1={433} dots={[...ics3, ...core3]} ul="6.57" ur="5.72" lr="2.97" />
      <BotPlot x0={453} x1={570} dots={[...ics4, ...core4]} ul="15.7" ur="4.95" lr="4.82" />

      <Arrow x1={21} y1={606.7} x2={21} y2={468} />
      <Arrow x1={21} y1={606.7} x2={306.7} y2={606.7} />
      <Arrow x1={21} y1={783} x2={21} y2={645} />
      <Arrow x1={21} y1={783} x2={306} y2={783} />
      <text transform="translate(15,536.7) rotate(-90)" fontSize={14} textAnchor="middle" fill={TXT}>CD62L</text>
      <text x={94.3} y={621.7} fontSize={14} textAnchor="middle" fill={TXT}>CD154</text>
      <text transform="translate(15,708) rotate(-90)" fontSize={14} textAnchor="middle" fill={TXT}>IFN-γ</text>
      <text x={94.3} y={800} fontSize={14} textAnchor="middle" fill={TXT}>TNF-α</text>
    </svg>
  );
}
